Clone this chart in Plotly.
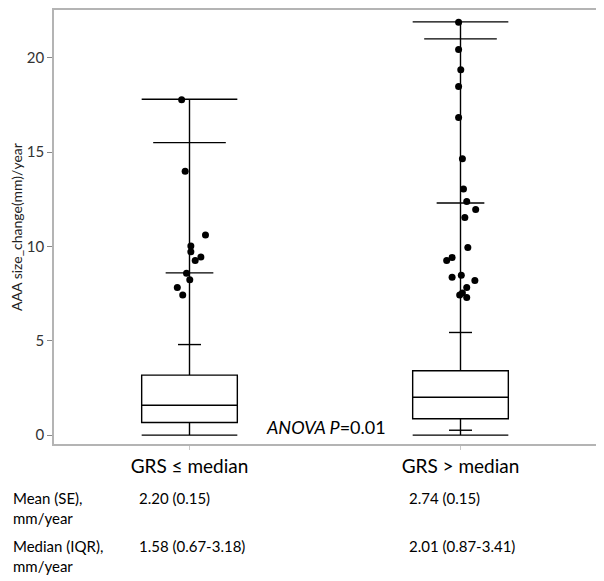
import plotly.graph_objects as go

# ---------------- data ----------------
groups = ["GRS ≤ median", "GRS > median"]
q1 = [0.67, 0.87]
median = [1.58, 2.01]
q3 = [3.18, 3.41]
whisker_low = [0.0, 0.0]
whisker_high = [17.8, 21.9]
# additional percentile marks drawn on the whiskers
upper_mark_1 = [15.5, 21.0]
upper_mark_2 = [8.6, 12.3]
upper_mark_3 = [4.8, 5.44]
lower_mark_3 = [None, 0.26]

left_points = [17.77, 13.98, 10.6, 10.02, 9.72, 9.44, 9.25, 8.58, 8.23, 7.83, 7.42]
left_jitter = [-0.029, -0.016, 0.059, 0.005, 0.005, 0.042, 0.021, -0.011, 0.001, -0.045, -0.025]
right_points = [21.88, 20.44, 19.37, 18.47, 16.83, 14.65, 13.04, 12.38, 11.96, 11.54,
                9.95, 9.42, 9.25, 8.47, 8.37, 8.19, 7.82, 7.53, 7.42, 7.30]
right_jitter = [-0.007, -0.007, 0.001, -0.007, -0.007, 0.007, 0.011, 0.023, 0.056, 0.016,
                0.027, -0.031, -0.051, 0.003, -0.031, 0.053, 0.023, 0.007, -0.003, 0.023]

row_labels = [["Mean (SE),", "mm/year"], ["Median (IQR),", "mm/year"]]
mean_se = ["2.20 (0.15)", "2.74 (0.15)"]
median_iqr = ["1.58 (0.67-3.18)", "2.01 (0.87-3.41)"]
anova_text = "<i>ANOVA P</i>=0.01"
y_title = "AAA size_change(mm)/year"
y_ticks = [0, 5, 10, 15, 20]

# ---------------- style ----------------
FONT = "Lato"
BOX_W = 0.353
MARK_W = [0.268, 0.176, 0.085]
pos = [0, 1]

fig = go.Figure()

for i in range(2):
    fig.add_trace(go.Box(
        x=[pos[i]], q1=[q1[i]], median=[median[i]], q3=[q3[i]],
        lowerfence=[whisker_low[i]], upperfence=[whisker_high[i]],
        width=BOX_W, whiskerwidth=1, boxpoints=False,
        line=dict(color="black", width=1.4), fillcolor="rgba(255,255,255,0)",
        showlegend=False, hoverinfo="skip"))

# percentile marks
for marks, w in [(upper_mark_1, MARK_W[0]), (upper_mark_2, MARK_W[1]),
                 (upper_mark_3, MARK_W[2]), (lower_mark_3, MARK_W[2])]:
    xs, ys = [], []
    for i in range(2):
        if marks[i] is None:
            continue
        xs += [pos[i] - w / 2, pos[i] + w / 2, None]
        ys += [marks[i], marks[i], None]
    fig.add_trace(go.Scatter(x=xs, y=ys, mode="lines",
                             line=dict(color="black", width=1.4),
                             showlegend=False, hoverinfo="skip"))

# outlier points
for i, (pts, jit) in enumerate([(left_points, left_jitter), (right_points, right_jitter)]):
    fig.add_trace(go.Scatter(x=[pos[i] + j for j in jit], y=pts, mode="markers",
                             marker=dict(color="black", size=7),
                             showlegend=False, hoverinfo="skip"))

# page body has an 8px margin; work in page pixel coordinates
OFF = 8
W, H = 604 - OFF, 581 - OFF
plot_left, plot_right, plot_top, plot_bottom = 54, 596, 8, 444  # page px
L = plot_left - OFF
R = (W + OFF) - plot_right
T = plot_top - OFF
B = (H + OFF) - plot_bottom
pw, ph = plot_right - plot_left, plot_bottom - plot_top


def px_x(px):
    return (px - plot_left) / pw


def px_y(py):
    return (plot_bottom - py) / ph


annos = []
annos.append(dict(text=anova_text, xref="paper", yref="paper", x=px_x(326), y=px_y(427),
                  xanchor="center", yanchor="middle", showarrow=False,
                  font=dict(family=FONT, size=18, color="black")))
row_y = [(498, 518), (546.7, 566.7)]
values = [mean_se, median_iqr]
for r in range(2):
    for k in range(2):
        annos.append(dict(text=row_labels[r][k], xref="paper", yref="paper",
                          x=px_x(11), y=px_y(row_y[r][k]), xanchor="left", yanchor="middle",
                          showarrow=False, font=dict(family=FONT, size=15, color="black")))
    for i, xs in enumerate([136.5, 406.5]):
        annos.append(dict(text=values[r][i], xref="paper", yref="paper",
                          x=px_x(xs), y=px_y(row_y[r][0]), xanchor="left", yanchor="middle",
                          showarrow=False, font=dict(family=FONT, size=15, color="black")))

fig.update_layout(
    width=W, height=H,
    margin=dict(l=L, r=R, t=T, b=B),
    paper_bgcolor="white", plot_bgcolor="white",
    annotations=annos,
    xaxis=dict(range=[-0.5, 1.5], tickvals=pos, ticktext=groups,
               ticks="outside", ticklen=4, tickcolor="#c8c8c8",
               tickfont=dict(family=FONT, size=19, color="black"),
               showgrid=False, zeroline=False,
               showline=True, linecolor="#b4b4b4", linewidth=1.5, mirror=True),
    yaxis=dict(range=[-0.47, 22.53], tickvals=y_ticks,
               ticks="outside", ticklen=5, tickcolor="#888888",
               tickfont=dict(family=FONT, size=15, color="#333333"),
               title=dict(text=y_title, font=dict(family=FONT, size=14, color="#222222"), standoff=3),
               showgrid=False, zeroline=False,
               showline=True, linecolor="#b4b4b4", linewidth=1.5, mirror=True),
)

fig.write_html("out.html")
